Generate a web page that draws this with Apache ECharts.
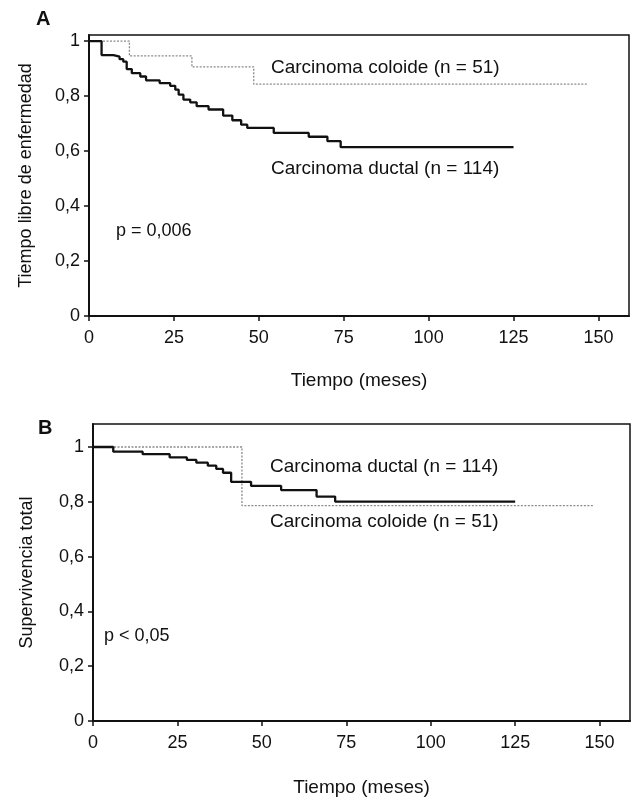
<!DOCTYPE html>
<html>
<head>
<meta charset="utf-8">
<script src="https://cdn.jsdelivr.net/npm/echarts@6/dist/echarts.min.js"></script>
<style>
html,body{margin:0;padding:0;background:#fff;}
#c{width:639px;height:798px;}
</style>
</head>
<body>
<div id="c"></div>
<script>
// ---- Data ----
// Panel A: disease-free time (Kaplan-Meier), [month, survival]
var ductalA_t = [0, 3.7, 7.2, 9.0, 10.1, 11.1, 12.6, 15.1, 16.8, 20.8, 23.9, 25.4, 26.4, 27.8, 29.8, 31.7, 35.2, 39.5, 42.2, 44.8, 46.6, 54.4, 64.7, 70.2, 74.1, 125];
var ductalA_v = [1, 0.949, 0.943, 0.934, 0.925, 0.898, 0.883, 0.871, 0.857, 0.847, 0.837, 0.823, 0.805, 0.787, 0.777, 0.763, 0.751, 0.729, 0.712, 0.696, 0.684, 0.666, 0.652, 0.636, 0.614, 0.614];
var coloidA_t = [0, 11.9, 30.3, 48.5, 147];
var coloidA_v = [1, 0.946, 0.906, 0.843, 0.843];
// Panel B: overall survival
var ductalB_t = [0, 6.0, 14.7, 22.7, 27.8, 30.6, 34.0, 36.5, 38.5, 40.9, 46.8, 55.7, 66.2, 71.7, 125];
var ductalB_v = [1, 0.983, 0.974, 0.962, 0.953, 0.943, 0.932, 0.920, 0.906, 0.873, 0.858, 0.843, 0.819, 0.801, 0.801];
var coloidB_t = [0, 44.1, 148];
var coloidB_v = [1, 0.786, 0.786];

var xTicks = [0, 25, 50, 75, 100, 125, 150];
var yTicks = [0, 0.2, 0.4, 0.6, 0.8, 1];
var yTickLabels = ['0', '0,2', '0,4', '0,6', '0,8', '1'];

var xTitle = 'Tiempo (meses)';
var yTitleA = 'Tiempo libre de enfermedad';
var yTitleB = 'Supervivencia total';
var labelColoid = 'Carcinoma coloide (n = 51)';
var labelDuctal = 'Carcinoma ductal (n = 114)';
var pA = 'p = 0,006';
var pB = 'p < 0,05';

function pairs(t, v) { return t.map(function (x, i) { return [x, v[i]]; }); }
function yFmt(v) {
  for (var i = 0; i < yTicks.length; i++) if (Math.abs(yTicks[i] - v) < 1e-9) return yTickLabels[i];
  return '';
}

var FONT = '"Liberation Sans", Arial, sans-serif';

function xAxisCfg(gi, gap) {
  return {
    type: 'value', gridIndex: gi, min: 0, max: 159,
    name: xTitle, nameLocation: 'middle', nameGap: gap,
    nameTextStyle: { fontFamily: FONT, fontSize: 19, color: '#111' },
    axisLine: { show: true, onZero: false, lineStyle: { color: '#111', width: 2 } },
    axisTick: { show: true, length: 5, lineStyle: { color: '#111', width: 1.5 }, customValues: xTicks },
    axisLabel: { fontFamily: FONT, fontSize: 18, color: '#111', margin: 13, customValues: xTicks },
    splitLine: { show: false }
  };
}
function yAxisCfg(gi, max, name, gap, pad) {
  return {
    type: 'value', gridIndex: gi, min: 0, max: max,
    name: name, nameLocation: 'middle', nameGap: gap, nameRotate: 90,
    nameTextStyle: { fontFamily: FONT, fontSize: 18, color: '#111', padding: pad },
    axisLine: { show: true, onZero: false, lineStyle: { color: '#111', width: 2 } },
    axisTick: { show: true, length: 5, lineStyle: { color: '#111', width: 1.5 }, customValues: yTicks },
    axisLabel: { fontFamily: FONT, fontSize: 18, color: '#111', margin: 9, formatter: yFmt, customValues: yTicks },
    splitLine: { show: false }
  };
}

var chart = echarts.init(document.getElementById('c'), null, { renderer: 'canvas' });
chart.setOption({
  backgroundColor: '#fff',
  animation: false,
  grid: [
    { left: 89, top: 35, right: 10, bottom: 482, show: true, borderColor: '#111', borderWidth: 1.5, containLabel: false },
    { left: 93, top: 424, right: 9, bottom: 77, show: true, borderColor: '#111', borderWidth: 1.5, containLabel: false }
  ],
  xAxis: [xAxisCfg(0, 55), xAxisCfg(1, 57)],
  yAxis: [yAxisCfg(0, 1.022, yTitleA, 54, [0, 0, 0, 0]), yAxisCfg(1, 1.084, yTitleB, 57, [0, 0, 0, 0])],
  series: [
    { type: 'line', xAxisIndex: 0, yAxisIndex: 0, step: 'end', symbol: 'none', data: pairs(coloidA_t, coloidA_v),
      lineStyle: { color: '#8a8a8a', width: 1.3, type: [2, 1.5] } },
    { type: 'line', xAxisIndex: 0, yAxisIndex: 0, step: 'end', symbol: 'none', data: pairs(ductalA_t, ductalA_v),
      lineStyle: { color: '#111', width: 2.3 } },
    { type: 'line', xAxisIndex: 1, yAxisIndex: 1, step: 'end', symbol: 'none', data: pairs(coloidB_t, coloidB_v),
      lineStyle: { color: '#8a8a8a', width: 1.3, type: [2, 1.5] } },
    { type: 'line', xAxisIndex: 1, yAxisIndex: 1, step: 'end', symbol: 'none', data: pairs(ductalB_t, ductalB_v),
      lineStyle: { color: '#111', width: 2.3 } }
  ],
  graphic: [
    { type: 'text', left: 36, top: 9, style: { text: 'A', font: 'bold 20px ' + FONT, fill: '#111' } },
    { type: 'text', left: 38, top: 418, style: { text: 'B', font: 'bold 20px ' + FONT, fill: '#111' } },
    { type: 'text', left: 271, top: 58, style: { text: labelColoid, font: '19px ' + FONT, fill: '#111' } },
    { type: 'text', left: 271, top: 159, style: { text: labelDuctal, font: '19px ' + FONT, fill: '#111' } },
    { type: 'text', left: 116, top: 222, style: { text: pA, font: '18px ' + FONT, fill: '#111' } },
    { type: 'text', left: 270, top: 457, style: { text: labelDuctal, font: '19px ' + FONT, fill: '#111' } },
    { type: 'text', left: 270, top: 512, style: { text: labelColoid, font: '19px ' + FONT, fill: '#111' } },
    { type: 'text', left: 104, top: 627, style: { text: pB, font: '18px ' + FONT, fill: '#111' } }
  ]
});
</script>
</body>
</html>
